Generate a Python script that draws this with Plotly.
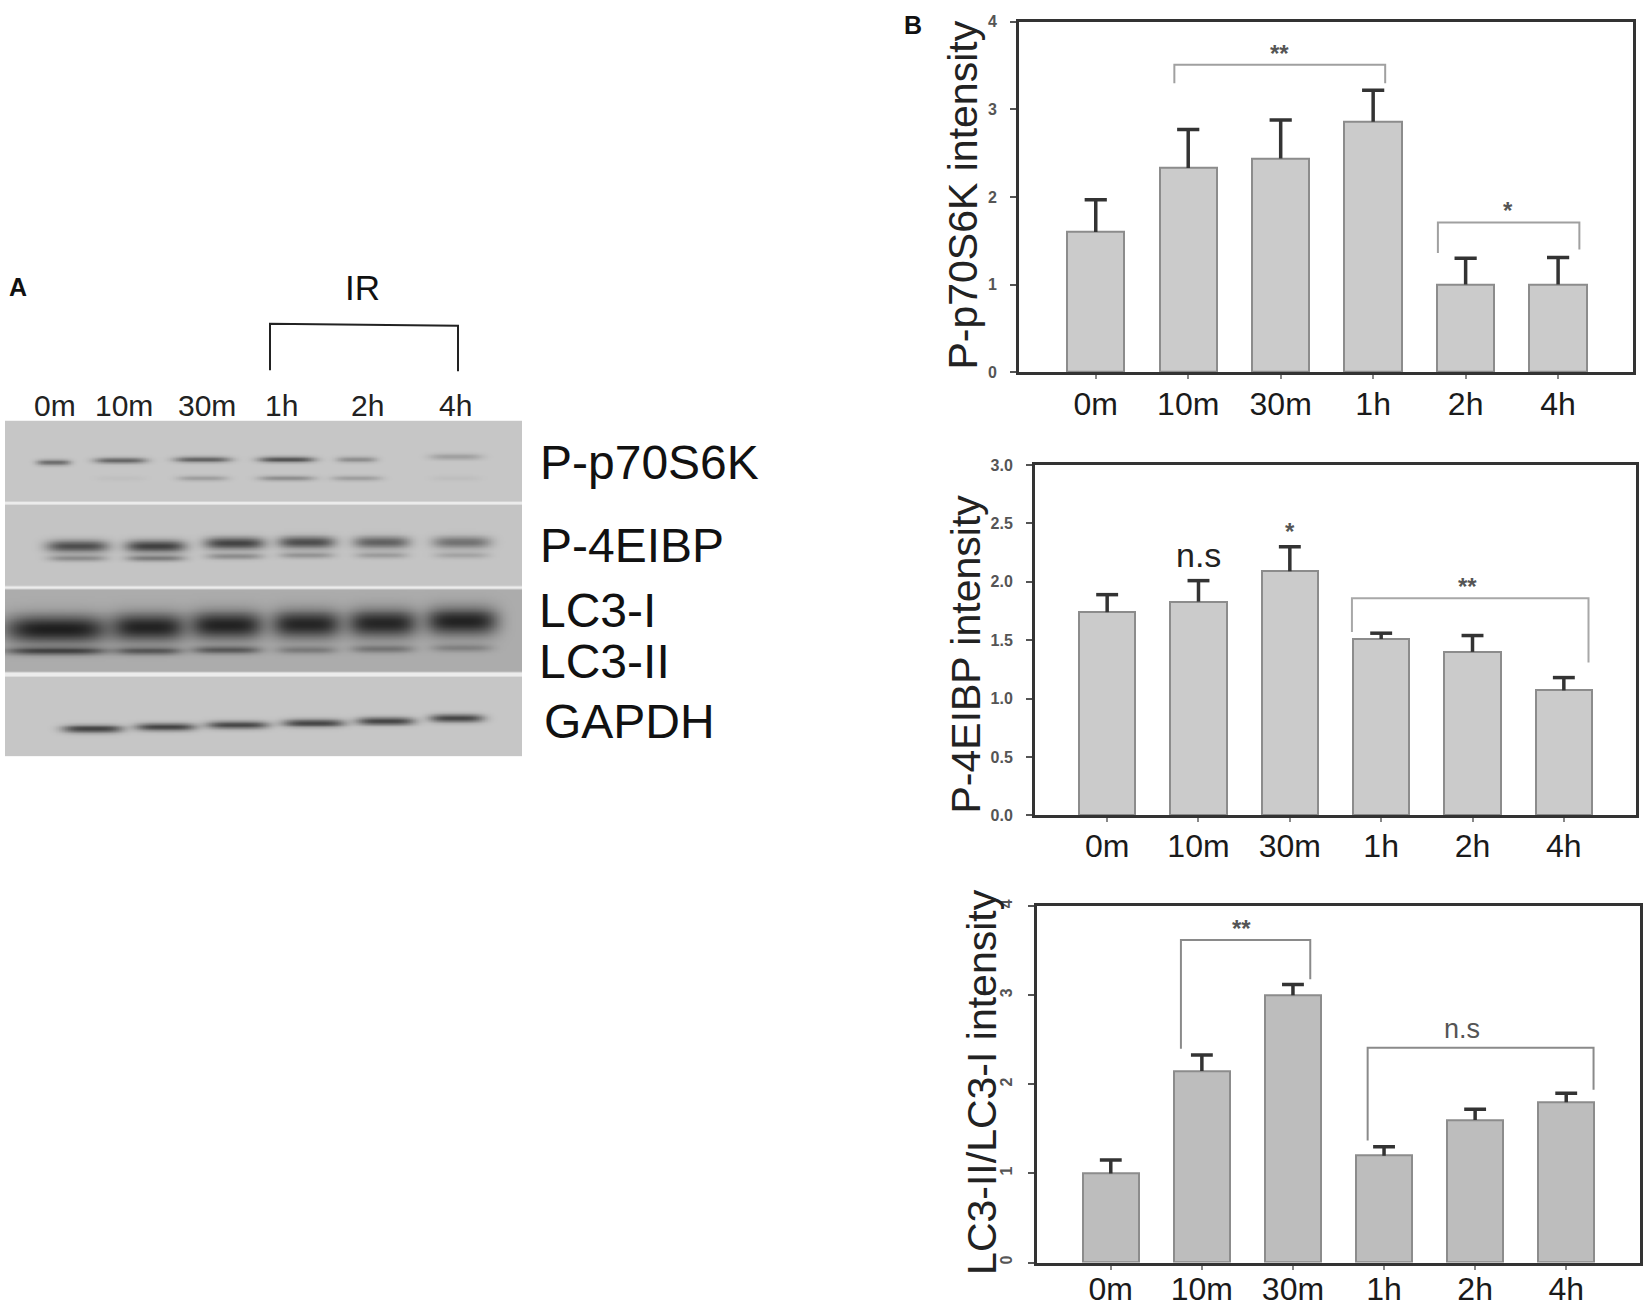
import numpy as np
import plotly.graph_objects as go

W, H = 1650, 1313
FONT = "Liberation Sans"

# ---- panel B data ----
times = ["0m", "10m", "30m", "1h", "2h", "4h"]

p70_mean = [1.60, 2.33, 2.44, 2.86, 1.00, 1.00]
p70_err = [0.37, 0.44, 0.44, 0.36, 0.30, 0.31]

ebp_mean = [1.74, 1.83, 2.09, 1.51, 1.40, 1.07]
ebp_err = [0.15, 0.18, 0.21, 0.05, 0.14, 0.11]

lc3_mean = [1.00, 2.15, 3.00, 1.20, 1.60, 1.80]
lc3_err = [0.15, 0.18, 0.12, 0.10, 0.12, 0.10]

# significance brackets: (x left, x right, level, left drop, right drop, label, label x)
p70_sig = [(0.85, 3.13, 3.51, 3.30, 3.30, "**", 1.99),
           (3.70, 5.23, 1.71, 1.36, 1.40, "*", 4.46)]
ebp_sig = [(2.68, 5.27, 1.86, 1.57, 1.31, "**", 3.95)]
lc3_sig = [(0.77, 2.19, 3.62, 2.40, 3.18, "**", 1.43),
           (2.82, 5.30, 2.41, 1.37, 1.94, "n.s", 3.86)]
# free labels over single bars in the P-4EIBP plot: (x, y, text, size)
ebp_marks = [(1, 2.23, "n.s", 34), (2, 2.43, "*", 24)]

# ---- panel A data: band darkness per lane (0 none .. 1 saturated) ----
lanes = ["0m", "10m", "30m", "1h", "2h", "4h"]
proteins = ["P-p70S6K", "P-4EIBP", "LC3-I", "LC3-II", "GAPDH"]
s6k_upper = [0.55, 0.62, 0.62, 0.72, 0.35, 0.24]
s6k_lower = [0.00, 0.04, 0.25, 0.35, 0.25, 0.05]
ebp_upper = [0.72, 0.80, 0.78, 0.72, 0.60, 0.50]
ebp_lower = [0.35, 0.45, 0.35, 0.30, 0.25, 0.20]
lc3i_band = [1.00, 0.97, 0.97, 0.95, 0.95, 0.97]
lc3ii_band = [0.75, 0.60, 0.60, 0.35, 0.40, 0.30]
gapdh_band = [0.80, 0.80, 0.78, 0.78, 0.78, 0.78]


def px(x):
    return x / W


def py(y):
    return 1 - y / H


# ---- blot geometry (pixels of the page) ----
s6k_x = [53, 120, 202, 286, 356, 455]
ebp_x = [77, 155, 234, 306, 381, 461]
lc3_x = [56, 148, 226, 306, 382, 461]
gap_x = [92, 165, 237, 313, 385, 456]

strips = [
    (418, 499, 198, [
        (s6k_x, [460, 458, 457, 457, 457, 454], [34, 52, 56, 56, 40, 52], 6, s6k_upper),
        (s6k_x, [476] * 6, [40, 50, 50, 56, 50, 50], 5, s6k_lower),
    ]),
    (503, 585, 196, [
        (ebp_x, [545, 545, 542, 541, 541, 541], [62, 60, 60, 57, 56, 58], 12, ebp_upper),
        (ebp_x, [557, 557, 555, 554, 554, 554], [58, 58, 56, 54, 52, 54], 6, ebp_lower),
    ]),
    (589, 672, 172, [
        (lc3_x, [629, 627, 625, 624, 623, 621], [104, 74, 74, 70, 70, 72], 28, lc3i_band),
        (lc3_x, [651, 651, 650, 650, 649, 648], [100, 66, 68, 60, 62, 60], 8, lc3ii_band),
    ]),
    (677, 758, 198, [
        (gap_x, [730, 728, 726, 724, 722, 719], [60, 60, 62, 62, 58, 54], 8, gapdh_band),
    ]),
]

bx = np.arange(5, 523, 1.5)
by = np.arange(418, 759, 1.5)
X, Y = np.meshgrid(bx, by)
gray = np.full(X.shape, 236.0)
for top, bot, bg, bands in strips:
    dark = np.zeros(X.shape)
    for cxs, cys, ws, h, vals in bands:
        for cx, cy, w, v in zip(cxs, cys, ws, vals):
            d = v * np.exp(-np.abs((X - cx) / (w / 2)) ** 4) * np.exp(-((Y - cy) / (h / 2)) ** 2)
            dark = 1 - (1 - dark) * (1 - d)
    g = bg - dark * (bg - 30)
    inside = (Y >= top) & (Y <= bot)
    gray = np.where(inside, g, gray)
gray = np.round(gray).astype(int)

fig = go.Figure()

fig.add_trace(go.Heatmap(
    x=bx, y=by, z=gray, zmin=0, zmax=255,
    colorscale=[[0, "rgb(0,0,0)"], [1, "rgb(255,255,255)"]],
    showscale=False, zsmooth="best", hoverinfo="skip",
    xaxis="x4", yaxis="y4",
))

# ---- bar panels ----
panels = [
    ("", p70_mean, p70_err, p70_sig, "#cbcbcb", "#a0a0a0"),
    ("2", ebp_mean, ebp_err, ebp_sig, "#cbcbcb", "#a8a8a8"),
    ("3", lc3_mean, lc3_err, lc3_sig, "#bdbdbd", "#8a8a8a"),
]
CAP = 0.12
annotations = []
for ax, mean, err, sigs, fill, bcol in panels:
    xs = list(range(len(times)))
    fig.add_trace(go.Bar(
        x=xs, y=mean, width=0.62,
        marker=dict(color=fill, line=dict(color="#8c8c8c", width=2)),
        xaxis="x" + ax, yaxis="y" + ax, hoverinfo="skip", showlegend=False,
    ))
    # one-sided error bars: stem from the bar top plus an upper cap only
    ex, ey = [], []
    for i, (m, e) in enumerate(zip(mean, err)):
        ex += [i, i, None, i - CAP, i + CAP, None]
        ey += [m, m + e, None, m + e, m + e, None]
    fig.add_trace(go.Scatter(
        x=ex, y=ey, mode="lines", line=dict(color="#333333", width=3.5),
        xaxis="x" + ax, yaxis="y" + ax, hoverinfo="skip", showlegend=False,
    ))
    for x0, x1, lev, dl, dr, lab, lx in sigs:
        fig.add_trace(go.Scatter(
            x=[x0, x0, x1, x1], y=[dl, lev, lev, dr], mode="lines",
            line=dict(color=bcol, width=2), xaxis="x" + ax, yaxis="y" + ax,
            hoverinfo="skip", showlegend=False,
        ))
        star = lab != "n.s"
        annotations.append(dict(
            x=lx, y=lev, xref="x" + ax, yref="y" + ax, text=lab, showarrow=False,
            xanchor="center", yanchor="bottom", yshift=-4 if star else 2,
            font=dict(family=FONT, size=24 if star else 27, color="#555555",
                      weight="bold" if star else "normal"),
        ))

for x, y, lab, size in ebp_marks:
    annotations.append(dict(
        x=x, y=y, xref="x2", yref="y2", text=lab, showarrow=False,
        xanchor="center", yanchor="middle",
        font=dict(family=FONT, size=size, color="#222222" if lab == "n.s" else "#555555",
                  weight="normal" if lab == "n.s" else "bold"),
    ))

# y axis titles
for text, xc, yc in [("P-p70S6K intensity", 963, 190),
                     ("P-4EIBP intensity", 966, 655),
                     ("LC3-II/LC3-I intensity", 982, 1088)]:
    annotations.append(dict(
        x=px(xc), y=py(yc), xref="paper", yref="paper", text=text, showarrow=False,
        textangle=-90, xanchor="center", yanchor="middle",
        font=dict(family=FONT, size=41, color="#222222"),
    ))

# panel A texts
annotations.append(dict(x=px(18), y=py(283), xref="paper", yref="paper", text="A",
                        showarrow=False, xanchor="center", yanchor="middle",
                        font=dict(family=FONT, size=25, color="#111111", weight="bold")))
annotations.append(dict(x=px(913), y=py(17), xref="paper", yref="paper", text="B",
                        showarrow=False, xanchor="center", yanchor="middle",
                        font=dict(family=FONT, size=25, color="#111111", weight="bold")))
annotations.append(dict(x=px(362), y=py(283), xref="paper", yref="paper", text="IR",
                        showarrow=False, xanchor="center", yanchor="middle",
                        font=dict(family=FONT, size=35, color="#111111")))
for lab, xc in zip(lanes, [55, 124, 207, 281, 367, 455]):
    annotations.append(dict(x=px(xc), y=py(403), xref="paper", yref="paper", text=lab,
                            showarrow=False, xanchor="center", yanchor="middle",
                            font=dict(family=FONT, size=30, color="#222222")))
for lab, xl, yc in zip(proteins, [538, 538, 537, 537, 542], [460, 545, 610, 662, 723]):
    annotations.append(dict(x=px(xl), y=py(yc), xref="paper", yref="paper", text=lab,
                            showarrow=False, xanchor="left", yanchor="middle",
                            font=dict(family=FONT, size=48, color="#111111")))

shapes = [dict(type="path", xref="paper", yref="paper",
               path=f"M {px(270)} {py(367)} L {px(270)} {py(320)} L {px(458)} {py(322)} L {px(458)} {py(368)}",
               line=dict(color="#222222", width=2))]


def yax(domain, rng, vals, size, angle=0, fmt=None):
    d = dict(domain=domain, range=rng, tickvals=vals, ticks="outside", ticklen=6,
             tickwidth=2, tickcolor="#555555", showline=True, linewidth=3,
             linecolor="#333333", mirror=True, showgrid=False, zeroline=False,
             tickangle=angle, ticklabelstandoff=10,
             tickfont=dict(family=FONT, size=size, color="#555555", weight="bold"))
    if fmt:
        d["tickformat"] = fmt
    return d


def xax(domain, rng, anchor, standoff):
    return dict(domain=domain, range=rng, tickvals=list(range(len(times))), ticktext=times,
                ticks="outside", ticklen=4, tickwidth=2, tickcolor="#888888",
                showline=True, linewidth=3, linecolor="#333333", mirror=True,
                showgrid=False, zeroline=False, anchor=anchor, ticklabelstandoff=standoff,
                tickfont=dict(family=FONT, size=32, color="#1a1a1a"))


fig.update_layout(
    width=W, height=H, autosize=False,
    margin=dict(l=0, r=0, t=0, b=0),
    paper_bgcolor="white", plot_bgcolor="white",
    showlegend=False, bargap=0,
    xaxis=xax([px(1019), px(1633)], [-0.83, 5.81], "y", -3),
    yaxis=yax([py(369), py(14)], [0, 4], [0, 1, 2, 3, 4], 16),
    xaxis2=xax([px(1035), px(1636)], [-0.79, 5.79], "y2", -4),
    yaxis2=yax([py(818), py(463)], [0, 3], [0, 0.5, 1, 1.5, 2, 2.5, 3], 16, fmt=".1f"),
    xaxis3=xax([px(1037), px(1640)], [-0.81, 5.81], "y3", -8),
    yaxis3=yax([py(1271), py(910)], [0, 4], [0, 1, 2, 3, 4], 16, angle=-90),
    xaxis4=dict(domain=[px(5), px(522)], range=[5, 522], visible=False, anchor="y4"),
    yaxis4=dict(domain=[py(758), py(418)], range=[758, 418], visible=False, anchor="x4"),
    annotations=annotations,
    shapes=shapes,
)
fig.update_layout(yaxis=dict(anchor="x"), yaxis2=dict(anchor="x2"), yaxis3=dict(anchor="x3"))

fig.write_html("out.html", config={"displayModeBar": False},
               post_script="document.body.style.margin='0';")
